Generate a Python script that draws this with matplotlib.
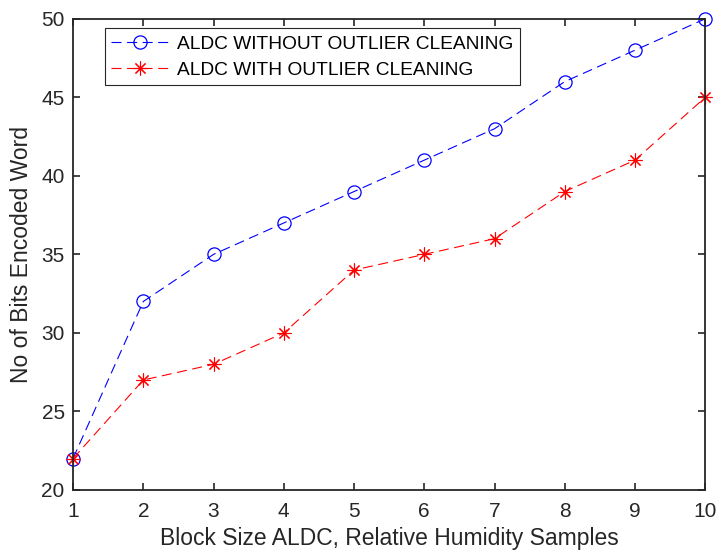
import matplotlib
matplotlib.use('Agg')
import matplotlib.pyplot as plt

plt.rcParams['font.family'] = ['Liberation Sans', 'DejaVu Sans']

block_size = [1, 2, 3, 4, 5, 6, 7, 8, 9, 10]
without_cleaning = [22, 32, 35, 37, 39, 41, 43, 46, 48, 50]
with_cleaning = [22, 27, 28, 30, 34, 35, 36, 39, 41, 45]

fig = plt.figure(figsize=(7.16, 5.53), dpi=100)
ax = fig.add_axes([0.102, 0.114, 0.883, 0.852])

ax.plot(block_size, without_cleaning, color='#0000ff', linestyle=(0, (9, 5)),
        linewidth=0.8, marker='o', markersize=9.5, markerfacecolor='none',
        markeredgewidth=0.9, clip_on=False,
        label='ALDC WITHOUT OUTLIER CLEANING')
ax.plot(block_size, with_cleaning, color='#ff0000', linestyle=(0, (9, 5)),
        linewidth=0.8, marker=(8, 2, 0), markersize=10,
        markeredgewidth=0.8, clip_on=False,
        label='ALDC WITH OUTLIER CLEANING')

ax.set_xlim(1, 10)
ax.set_ylim(20, 50)
ax.set_xticks(block_size)
ax.set_yticks([20, 25, 30, 35, 40, 45, 50])
ax.tick_params(direction='in', length=5, width=1.2, labelsize=15,
               top=True, right=True, colors='#262626')
ax.tick_params(axis='x', pad=9)
ax.tick_params(axis='y', pad=6)
for s in ax.spines.values():
    s.set_linewidth(1.3)
    s.set_color('#262626')

ax.set_xlabel('Block Size ALDC, Relative Humidity Samples', fontsize=16.5,
              color='#262626', labelpad=4)
ax.set_ylabel('No of Bits Encoded Word', fontsize=16.5, color='#262626',
              labelpad=6)

leg = ax.legend(loc='upper left', bbox_to_anchor=(0.035, 1.0), fontsize=13.8,
                fancybox=False, framealpha=1, edgecolor='#262626',
                handlelength=3.0, handletextpad=0.4, borderpad=0.35,
                labelspacing=0.45)
leg.get_frame().set_linewidth(0.8)

plt.savefig('out.png', dpi=100)
plt.close()
